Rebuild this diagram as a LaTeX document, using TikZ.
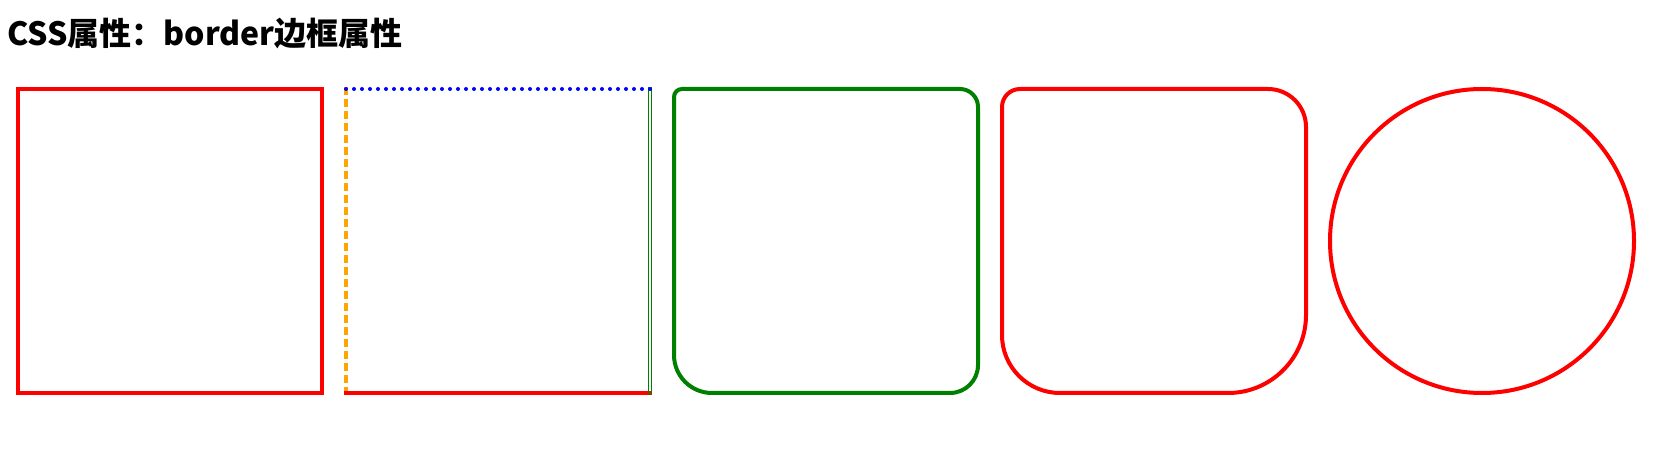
\documentclass[tikz,border=0pt]{standalone}
\usepackage{fontspec}
\newfontfamily\cjk{Noto Sans CJK SC}
\definecolor{cssred}{HTML}{FF0000}
\definecolor{cssblue}{HTML}{0000FF}
\definecolor{cssorange}{HTML}{FFA500}
\definecolor{cssgreen}{HTML}{008000}
\tikzset{
  bord/.style={line width=4pt},
  solidred/.style={bord, draw=cssred},
  dottedblue/.style={bord, draw=cssblue, line cap=round, dash pattern=on 0pt off 8pt},
  dashedorange/.style={bord, draw=cssorange, dash pattern=on 8pt off 4pt},
  doublegreen/.style={line width=1.2pt, draw=cssgreen},
  solidgreen/.style={bord, draw=cssgreen},
  titletext/.style={inner sep=0pt, anchor=base west, font=\cjk\bfseries\fontsize{32}{38}\selectfont}
}
\begin{document}
\begin{tikzpicture}[x=1pt,y=1pt]
\useasboundingbox (0,0) rectangle (1670,460);
\fill[white] (0,0) rectangle (1670,460);
% title
\node[titletext] (title) at (7,414) {CSS属性：border边框属性};
% box 1
\draw[solidred] (18,371) rectangle (322,67);
% box 2
\coordinate (b2tl) at (346,371);
\coordinate (b2tr) at (650,371);
\draw[dashedorange] (346,373) -- (346,65);
\draw[solidred] (344,67) -- (652,67);
\draw[doublegreen] (648.3,373) -- (648.3,65);
\draw[doublegreen] (651.7,373) -- (651.7,65);
\draw[dottedblue] (b2tl) -- (b2tr);
% box 3
\draw[solidgreen] (682,371) -- (960,371) arc[start angle=90,end angle=0,radius=18pt]
  -- (978,95) arc[start angle=0,end angle=-90,radius=28pt]
  -- (712,67) arc[start angle=270,end angle=180,radius=38pt]
  -- (674,363) arc[start angle=180,end angle=90,radius=8pt] -- cycle;
% box 4
\draw[solidred] (1020,371) -- (1268,371) arc[start angle=90,end angle=0,radius=38pt]
  -- (1306,145) arc[start angle=0,end angle=-90,radius=78pt]
  -- (1060,67) arc[start angle=270,end angle=180,radius=58pt]
  -- (1002,353) arc[start angle=180,end angle=90,radius=18pt] -- cycle;
% circle
\draw[solidred] (1482,219) circle[radius=152pt];
\end{tikzpicture}
\end{document}
